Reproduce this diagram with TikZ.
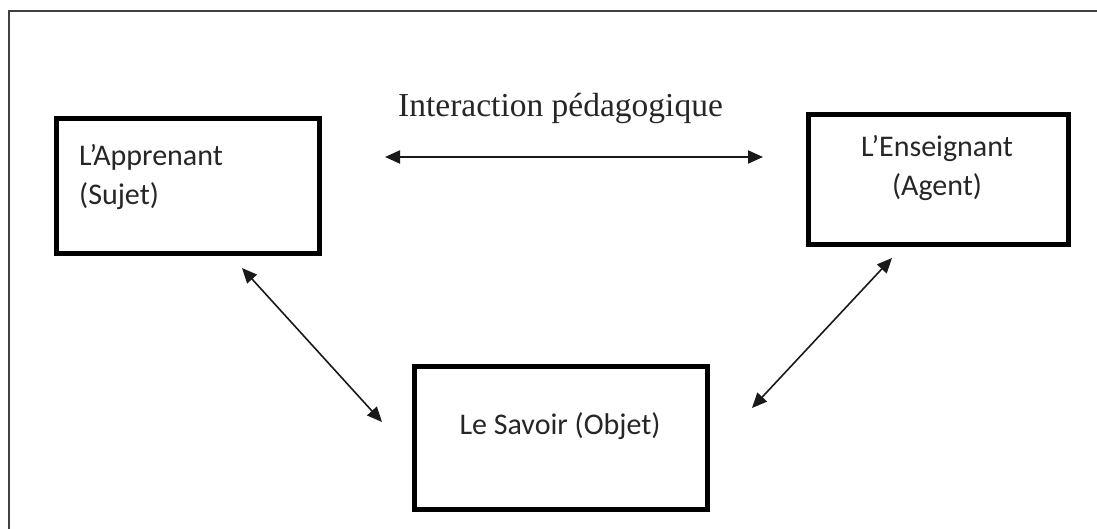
\documentclass[tikz,border=0pt]{standalone}
\usepackage{fontspec}
\setmainfont{Liberation Serif}
\newfontfamily\boxfont{Carlito}
\usetikzlibrary{arrows.meta}
\tikzset{
  box/.style={draw=black, line width=5pt, rectangle, inner sep=0pt, outer sep=0pt},
  boxtext/.style={font=\boxfont\fontsize{30}{36}\selectfont, text=black!85, inner sep=0pt, anchor=base},
  boxtextl/.style={boxtext, anchor=base west},
  link/.style={line width=1.6pt, black!90, {Triangle[length=15pt,width=13pt]}-{Triangle[length=15pt,width=13pt]}},
  frameline/.style={line width=2pt, black!75}
}
\begin{document}
\begin{tikzpicture}[x=1pt,y=-1pt]
\useasboundingbox (0,0) rectangle (1097,529);
% outer frame (top and left sides only visible)
\draw[frameline] (9,529) -- (9,11) -- (1097,11);
% boxes
\node[box, minimum width=263pt, minimum height=135pt] (app) at (187.5,186.5) {};
\node[box, minimum width=260pt, minimum height=130pt] (ens) at (938,180) {};
\node[box, minimum width=293pt, minimum height=143pt] (sav) at (560.5,437.5) {};
% box texts
\node[boxtextl] (app1) at (79,166) {L’Apprenant};
\node[boxtextl] (app2) at (79,205) {(Sujet)};
\node[boxtext] (ens1) at (937,157) {L’Enseignant};
\node[boxtext] (ens2) at (937,196) {(Agent)};
\node[boxtext] (sav1) at (560,434) {Le Savoir (Objet)};
% title
\node[font=\fontsize{33.5}{40}\selectfont, text=black!85, inner sep=0pt, anchor=base west] (title) at (398,117) {Interaction pédagogique};
% arrow end points
\coordinate (h1) at (385,157);
\coordinate (h2) at (763,157);
\coordinate (l1) at (242,268);
\coordinate (l2) at (382,422);
\coordinate (r1) at (892,258);
\coordinate (r2) at (752,408);
\draw[link, line width=2pt] (h1) -- (h2);
\draw[link] (l1) -- (l2);
\draw[link] (r1) -- (r2);
\end{tikzpicture}
\end{document}
